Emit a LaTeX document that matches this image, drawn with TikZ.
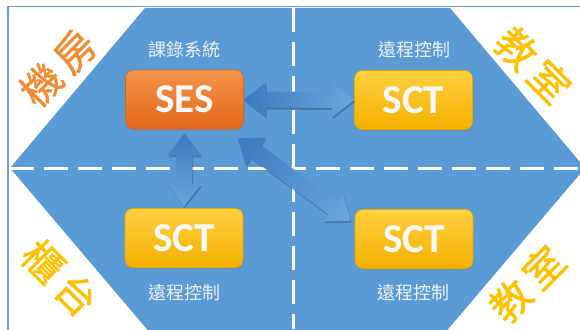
\documentclass[tikz,border=0pt]{standalone}
\usepackage{fontspec}
\newfontfamily\cjk{Noto Sans CJK TC}
\newfontfamily\cjkmed[FakeBold=1.2]{Noto Sans CJK TC}
\newfontfamily\lat{Carlito}
\usetikzlibrary{shadows,calc}
\definecolor{hexblue}{HTML}{5B9BD5}
\definecolor{framecol}{HTML}{6C9BD2}
\definecolor{orgtop}{HTML}{F5954A}
\definecolor{orgbot}{HTML}{E3661A}
\definecolor{orgline}{HTML}{D9641E}
\definecolor{ylwtop}{HTML}{FFD040}
\definecolor{ylwbot}{HTML}{F5B000}
\definecolor{ylwline}{HTML}{E8A800}
\definecolor{arrA}{HTML}{3B7ABF}
\definecolor{arrB}{HTML}{6AA6DD}
\definecolor{cornOrange}{HTML}{F28C33}
\definecolor{cornGold}{HTML}{FFC000}
\definecolor{lblcol}{HTML}{EEF1F5}
\tikzset{
  boxbase/.style={rounded corners=8pt, minimum width=118pt, minimum height=59pt, inner sep=0pt,
    font=\lat\bfseries\fontsize{41}{41}\selectfont, text=white!95!gray,
    drop shadow={opacity=0.35, shadow xshift=1pt, shadow yshift=-2pt}, line width=0.6pt},
  sesbox/.style={boxbase, top color=orgtop, bottom color=orgbot, draw=orgline},
  sctbox/.style={boxbase, top color=ylwtop, bottom color=ylwbot, draw=ylwline},
  lbl/.style={font=\cjk\fontsize{18}{18}\selectfont, text=lblcol, inner sep=0pt},
  corner/.style={font=\cjkmed\fontsize{40}{40}\selectfont, inner sep=0pt},
  divider/.style={white, line width=3pt, dash pattern=on 24pt off 10pt},
  arrowfill/.style={left color=arrA, right color=arrB}
}
\newcommand\blockarrow[2]{%
  \path let \p1=(#1), \p2=(#2), \n1={atan2(\y2-\y1,\x2-\x1)}, \n2={veclen(\x2-\x1,\y2-\y1)} in
    \pgfextra{\pgfmathparse{\x1}\xdef\bax{\pgfmathresult}%
              \pgfmathparse{\y1}\xdef\bay{\pgfmathresult}%
              \pgfmathparse{\n1}\xdef\baang{\pgfmathresult}%
              \pgfmathparse{\n2}\xdef\balen{\pgfmathresult}};
  \begin{scope}[transform canvas={shift={(\bax+1,\bay-2)}, rotate=\baang}]
    \fill[black, opacity=0.22] (0,0) -- (22,17) -- (22,8) -- (\balen-22,8) -- (\balen-22,17) -- (\balen,0)
      -- (\balen-22,-17) -- (\balen-22,-8) -- (22,-8) -- (22,-17) -- cycle;
  \end{scope}
  \begin{scope}[transform canvas={shift={(\bax,\bay)}, rotate=\baang}]
    \shade[arrowfill] (0,0) -- (22,17) -- (22,8) -- (\balen-22,8) -- (\balen-22,17) -- (\balen,0)
      -- (\balen-22,-17) -- (\balen-22,-8) -- (22,-8) -- (22,-17) -- cycle;
  \end{scope}}
\begin{document}
\begin{tikzpicture}[x=1pt,y=1pt]
\useasboundingbox (0,0) rectangle (580,329);
\clip (0,0) rectangle (580,329);
\fill[white] (0,0) rectangle (580,329);
\fill[hexblue] (10,161) -- (145,321) -- (450,321) -- (585,161) -- (444,-5) -- (151,-5) -- cycle;
\draw[framecol, line width=1.6pt] (8,-5) -- (8,322.5) -- (585,322.5);
\draw[divider] (293,321) -- (293,0);
\draw[divider] (10,160) -- (580,160);

\node[sesbox] (ses) at (184.5,229.5) {SES};
\node[sctbox] (sct1) at (413.5,229) {SCT};
\node[sctbox] (sct2) at (184,91) {SCT};
\node[sctbox] (sct3) at (414,90) {SCT};

\node[lbl] (l0) at (184,279) {課錄系統};
\node[lbl] (l1) at (414,279) {遠程控制};
\node[lbl] (l2) at (184,36) {遠程控制};
\node[lbl] (l3) at (413,36) {遠程控制};

\blockarrow{ses.east}{sct1.west}
\blockarrow{$(ses.south)+(0,-4)$}{$(sct2.north)+(0,2)$}
\blockarrow{$(ses.south east)+(-6,-9)$}{$(sct3.north west)+(-4,-11.5)$}

\node[corner, text=cornOrange, rotate=45] (t1) at (58,261) {機\hspace{7pt}房};
\node[corner, text=cornGold, rotate=-45] (t2) at (533,264) {教\hspace{7pt}室};
\node[corner, text=cornGold, rotate=-45] (t3) at (60,51) {櫃\hspace{7pt}台};
\node[corner, text=cornGold, rotate=45] (t4) at (527,45) {教\hspace{7pt}室};
\end{tikzpicture}
\end{document}
